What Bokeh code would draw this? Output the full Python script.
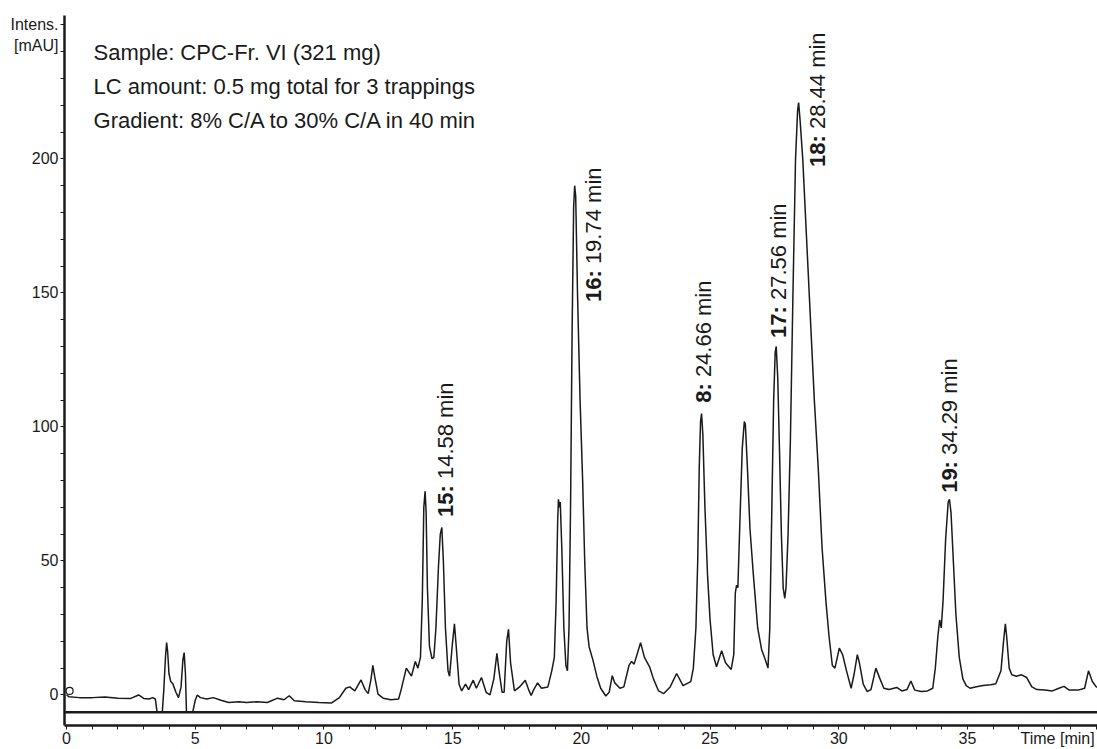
import math
import numpy as np
from bokeh.plotting import figure
from bokeh.models import Range1d, Span, ColumnDataSource, FixedTicker
from bokeh.core.properties import value
from bokeh.embed import file_html
from bokeh.resources import INLINE

# ---------------- data ----------------
time_min = [
    0.00, 0.10, 0.50, 1.00, 1.50, 2.00, 2.50, 2.80, 3.00, 3.20, 3.35, 3.45, 3.52, 3.72, 3.78, 3.85,
    3.89, 3.93, 3.98, 4.05, 4.13, 4.25, 4.35, 4.45, 4.52, 4.57, 4.62, 4.66, 4.90, 5.00, 5.08, 5.20,
    5.45, 5.70, 6.00, 6.30, 6.70, 7.00, 7.40, 7.80, 8.20, 8.45, 8.65, 8.85, 9.30, 9.80, 10.30, 10.60,
    10.85, 11.00, 11.20, 11.44, 11.60, 11.72, 11.83, 11.90, 11.97, 12.10, 12.30, 12.60, 12.90, 13.00,
    13.20, 13.40, 13.55, 13.65, 13.75, 13.82, 13.88, 13.93, 13.97, 14.02, 14.10, 14.20, 14.27, 14.35,
    14.45, 14.52, 14.58, 14.64, 14.72, 14.82, 14.88, 14.98, 15.07, 15.14, 15.25, 15.35, 15.50, 15.62,
    15.80, 15.92, 16.12, 16.30, 16.45, 16.60, 16.72, 16.80, 16.92, 17.00, 17.10, 17.17, 17.25, 17.40,
    17.60, 17.82, 17.95, 18.05, 18.15, 18.30, 18.45, 18.70, 18.85, 18.95, 19.02, 19.08, 19.11, 19.15,
    19.18, 19.24, 19.32, 19.40, 19.46, 19.52, 19.58, 19.64, 19.70, 19.74, 19.78, 19.85, 19.95, 20.05,
    20.13, 20.22, 20.30, 20.45, 20.60, 20.75, 20.95, 21.08, 21.20, 21.30, 21.50, 21.65, 21.85, 21.95,
    22.05, 22.30, 22.45, 22.65, 22.80, 23.00, 23.20, 23.45, 23.70, 23.95, 24.25, 24.35, 24.45, 24.52,
    24.58, 24.63, 24.67, 24.72, 24.80, 24.90, 25.00, 25.12, 25.25, 25.45, 25.60, 25.82, 25.92, 25.98,
    26.03, 26.08, 26.15, 26.25, 26.33, 26.37, 26.45, 26.55, 26.68, 26.85, 27.00, 27.15, 27.25, 27.32,
    27.40, 27.47, 27.53, 27.57, 27.63, 27.70, 27.77, 27.84, 27.90, 27.95, 28.03, 28.12, 28.22, 28.32,
    28.40, 28.44, 28.50, 28.60, 28.75, 28.90, 29.05, 29.20, 29.35, 29.50, 29.62, 29.75, 29.85, 29.92,
    30.02, 30.15, 30.30, 30.48, 30.60, 30.72, 30.80, 30.95, 31.10, 31.25, 31.44, 31.60, 31.75, 31.95,
    32.25, 32.45, 32.65, 32.80, 32.95, 33.20, 33.45, 33.65, 33.75, 33.85, 33.92, 33.98, 34.05, 34.15,
    34.25, 34.30, 34.36, 34.45, 34.55, 34.68, 34.82, 34.95, 35.10, 35.30, 35.60, 35.90, 36.10, 36.30,
    36.40, 36.47, 36.52, 36.62, 36.72, 36.90, 37.10, 37.30, 37.50, 37.70, 38.00, 38.30, 38.55, 38.75,
    38.95, 39.30, 39.55, 39.70, 39.85, 40.00, 40.10,
]
intensity_mau = [
    0.0, -0.7, -1.0, -1.0, -0.8, -1.2, -1.3, 0.0, -1.3, -1.5, -1.0, -1.5, -6.7, -6.7, 2.0, 15.0,
    19.5, 16.0, 8.0, 5.0, 4.2, 1.0, -1.0, 3.0, 13.0, 15.8, 8.0, -6.7, -6.7, -2.0, 0.0, -1.0,
    -1.5, -1.0, -2.0, -2.8, -2.5, -2.8, -2.5, -2.8, -1.2, -1.8, -0.3, -2.2, -2.5, -2.8, -3.0, -1.0,
    2.5, 3.0, 1.5, 5.6, 2.0, 0.5, 6.0, 11.0, 7.0, 0.3, -1.2, -1.8, -1.5, 2.0,
    10.0, 7.0, 12.5, 10.0, 14.0, 35.0, 70.0, 76.0, 68.0, 40.0, 18.0, 13.5, 14.0, 25.0,
    48.0, 60.0, 62.5, 50.0, 25.0, 9.0, 7.0, 18.0, 26.5, 18.0, 4.0, 1.5, 4.0, 2.0,
    5.5, 2.5, 6.5, 1.0, 0.0, 6.0, 15.5, 9.0, 1.0, 1.0, 20.0, 24.5, 12.0, 1.5,
    3.0, 5.5, 2.0, -0.2, 2.0, 4.5, 2.5, 3.0, 9.0, 14.0, 35.0, 65.0, 73.0, 70.0,
    72.0, 55.0, 25.0, 11.0, 9.0, 25.0, 70.0, 135.0, 182.0, 190.0, 186.0, 150.0, 110.0, 80.0,
    50.0, 25.0, 18.0, 13.0, 7.0, 2.5, -0.4, 1.0, 7.2, 4.5, 2.5, 3.0, 11.0, 12.5,
    11.5, 19.5, 14.0, 10.5, 6.0, 1.5, 0.5, 3.0, 8.0, 3.5, 5.0, 10.0, 25.0, 50.0,
    85.0, 102.0, 105.0, 97.0, 70.0, 45.0, 28.0, 15.0, 10.5, 16.5, 12.0, 9.5, 15.0, 38.0,
    41.0, 40.0, 62.0, 92.0, 102.0, 101.0, 85.0, 62.0, 45.0, 25.0, 17.0, 13.0, 10.0, 25.0,
    70.0, 110.0, 128.0, 130.0, 118.0, 90.0, 60.0, 40.0, 36.0, 40.0, 60.0, 95.0, 150.0, 200.0,
    218.0, 221.0, 214.0, 200.0, 170.0, 140.0, 110.0, 85.0, 55.0, 35.0, 22.0, 11.0, 10.0, 13.0,
    17.5, 15.0, 9.0, 2.5, 8.0, 15.0, 12.0, 4.0, 1.3, 2.0, 10.0, 6.0, 2.5, 2.0,
    2.8, 1.5, 2.0, 5.2, 1.8, 1.3, 1.5, 2.5, 10.0, 22.0, 28.0, 25.0, 35.0, 58.0,
    72.0, 73.0, 68.0, 50.0, 30.0, 14.0, 6.0, 3.5, 2.5, 3.0, 3.5, 3.8, 4.2, 9.0,
    20.0, 26.5, 22.0, 10.0, 7.5, 7.0, 7.5, 6.5, 3.0, 2.0, 1.8, 1.5, 2.5, 3.2,
    1.8, 1.8, 2.5, 9.0, 5.0, 3.0, 3.0,
]

# labelled peaks
peak_ids = ["15:", "16:", "8:", "17:", "18:", "19:"]
peak_times = [14.58, 19.74, 24.66, 27.56, 28.44, 34.29]
peak_rt_text = ["14.58 min", "19.74 min", "24.66 min", "27.56 min", "28.44 min", "34.29 min"]
label_start_mau = [66.4, 146.6, 109.0, 133.2, 197.0, 75.4]   # where each rotated label begins

# axis ticks and their labels (the axis titles sit in the tick-label rows, as in the original)
x_ticks = [0, 5, 10, 15, 20, 25, 30, 35, 38.5]
x_tick_labels = {38.5: "Time [min]"}
y_ticks = [0, 50, 100, 150, 200, 242.4, 250]
y_tick_labels = {242.4: "[mAU]", 250: "Intens."}
baseline_bar = -6.5        # thick reference bar under the trace
start_marker_t = [0.12]
start_marker_v = [1.5]

notes = ["Sample: CPC-Fr. VI (321 mg)",
         "LC amount: 0.5 mg total for 3 trappings",
         "Gradient: 8% C/A to 30% C/A in 40 min"]

# ---------------- figure ----------------
FONT = "Liberation Sans"
INK = "#1a1a1a"

p = figure(width=1097, height=749, output_backend="svg", toolbar_location=None,
           x_range=Range1d(-0.078, 40.05), y_range=Range1d(-11.4, 253.5),
           min_border_left=64, min_border_right=0, min_border_top=15, min_border_bottom=22)
p.grid.visible = False
p.outline_line_color = None
p.background_fill_color = "white"

# axes
xa = p.xaxis[0]
xa.ticker = FixedTicker(ticks=x_ticks, minor_ticks=list(range(0, 41)))
xa.major_label_overrides = x_tick_labels
xa.axis_line_width = 2.5
xa.axis_line_color = INK
xa.major_tick_in = 0
xa.major_tick_out = 0
xa.major_tick_line_color = None
xa.minor_tick_in = 0
xa.minor_tick_out = 4
xa.minor_tick_line_color = INK
xa.major_label_standoff = 0
xa.major_label_text_font = FONT
xa.major_label_text_font_size = "16px"
xa.major_label_text_color = INK

ya = p.yaxis[0]
ya.ticker = FixedTicker(ticks=y_ticks, minor_ticks=list(range(0, 260, 10)))
ya.major_label_overrides = y_tick_labels
ya.axis_line_width = 2.5
ya.axis_line_color = INK
ya.major_tick_in = 0
ya.major_tick_out = 0
ya.major_tick_line_color = None
ya.minor_tick_in = 0
ya.minor_tick_out = 4
ya.minor_tick_line_color = INK
ya.major_label_standoff = 2
ya.major_label_text_font = FONT
ya.major_label_text_font_size = "16px"
ya.major_label_text_color = INK

# thick reference bar
p.add_layout(Span(location=baseline_bar, dimension="width", line_color=INK, line_width=2.5))

# trace (clipped at the reference bar like the original print)
trace = np.maximum(np.array(intensity_mau), baseline_bar)
p.line(time_min, trace, line_color=INK, line_width=1.5)
p.scatter(start_marker_t, start_marker_v, marker="circle", size=7, fill_color="white",
          line_color=INK, line_width=1.2)

# notes
note_src = ColumnDataSource(dict(x=[1.05] * len(notes),
                                 y=[239.7 - i * 12.65 for i in range(len(notes))],
                                 t=notes))
p.text(x="x", y="y", text="t", source=note_src, text_font=value(FONT), text_font_size="22px",
       text_color=INK, text_baseline="alphabetic", text_align="left")

# rotated peak labels: bold id + regular retention time
fs = 22
gap = [fs * (0.556 * sum(c.isdigit() for c in s) + 0.333 + 0.278) for s in peak_ids]
dx = [4, 19, 2, 3, 19, 0]
src = ColumnDataSource(dict(x=peak_times, y=label_start_mau, ids=peak_ids, rt=peak_rt_text,
                            dx=dx, dy=[-g for g in gap]))
p.text(x="x", y="y", text="ids", source=src, angle=math.pi / 2, x_offset="dx",
       text_font=value(FONT), text_font_style="bold", text_font_size=f"{fs}px",
       text_align="left", text_baseline="middle", text_color=INK)
p.text(x="x", y="y", text="rt", source=src, angle=math.pi / 2, x_offset="dx", y_offset="dy",
       text_font=value(FONT), text_font_size=f"{fs}px",
       text_align="left", text_baseline="middle", text_color=INK)

open("out.html", "w").write(file_html(p, INLINE))
